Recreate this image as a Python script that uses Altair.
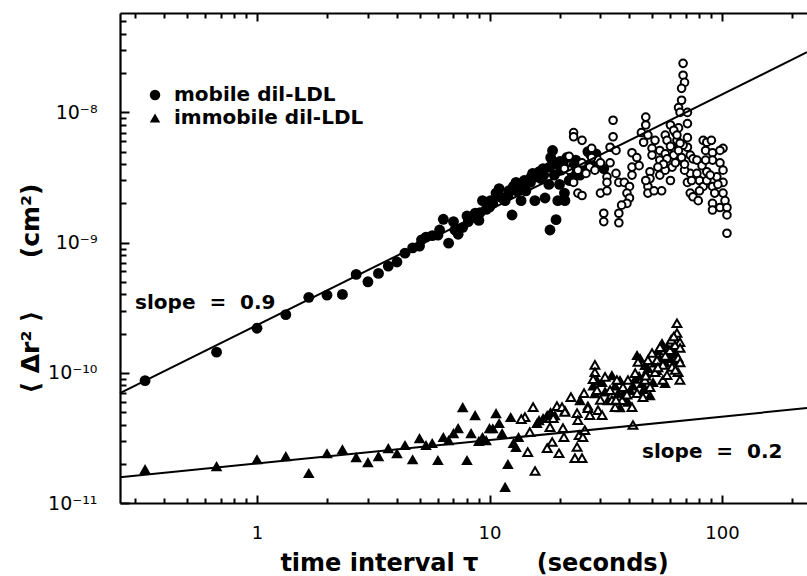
import altair as alt
import pandas as pd

FONT = "DejaVu Sans"
NB = "\u00a0"

SERIES = ["mobile dil-LDL", "immobile dil-LDL"]

# (time interval tau [s], <dr^2> in units of 1e-10 cm^2)
mobile_filled = [
    (0.33, 0.87), (0.67, 1.44), (1.0, 2.2), (1.33, 2.8), (1.67, 3.8), (2.0, 3.95),
    (2.33, 4.0), (2.67, 5.7), (3.0, 5.0), (3.33, 5.8), (3.67, 6.6), (4.0, 7.1),
    (4.33, 8.3), (4.67, 9.1), (5.0, 9.4), (5.33, 11.0), (5.67, 11.3), (6.0, 11.4),
    (6.33, 15.1), (6.67, 9.9), (7.0, 14.5), (7.33, 11.6), (7.67, 13.1), (8.0, 16.0),
    (8.33, 15.5), (8.67, 16.8), (9.0, 14.8), (9.33, 21), (9.67, 18), (10.0, 18.7),
    (10.33, 20), (10.67, 24), (11.0, 26), (11.33, 22), (11.67, 21), (12.0, 23),
    (12.5, 16.3), (12.67, 27), (13.0, 29), (13.33, 28), (13.67, 21), (14.0, 27),
    (14.33, 25), (14.67, 30), (15.0, 29), (15.33, 34), (15.67, 21), (16.0, 32),
    (16.33, 35), (16.67, 31), (17.0, 37), (17.33, 22), (18.2, 12.5), (18.0, 28),
    (18.33, 45), (18.67, 51), (19.0, 33), (19.33, 15), (19.67, 21), (20.0, 28),
    (20.33, 36), (20.67, 40), (21.0, 24), (21.1, 21), (22.0, 30), (22.7, 34),
    (23.0, 39), (24.5, 33), (25.3, 37), (26.0, 39), (27.3, 47), (28.0, 44),
    (29.0, 41), (31.0, 37),
    (5.1, 10.5), (6.1, 12.5), (7.1, 12.5), (8.1, 14.5), (9.1, 17), (10.1, 21),
    (11.1, 22.5), (12.1, 25), (13.1, 25), (14.1, 30), (15.1, 32), (16.1, 34),
    (17.1, 33), (18.1, 38), (19.1, 40), (20.1, 42), (21.5, 45), (23.5, 43),
    (26.5, 50), (28.7, 48),
]
mobile_open = [
    (68, 238), (68, 193), (69, 170), (67, 153), (67, 124), (65, 109), (66, 100), (71, 100), (71, 82),
    (47, 92), (47, 80), (45, 70), (48, 67), (46, 59),
    (34, 87), (34, 65), (33, 54), (35, 51),
    (23, 70), (23, 65), (25, 61), (27.5, 53), (22, 46), (25, 41), (27, 38), (29, 44), (30, 41), (33, 41),
    (22, 36), (24, 36), (26, 34), (23, 29), (24, 24), (25, 23),
    (32, 32), (35, 34), (36, 29), (32, 29), (30, 24), (32, 25),
    (38, 29), (40, 27), (39, 24), (40, 22), (39, 20), (37, 19.4),
    (31, 16.8), (31, 14.5), (36, 16.8), (36, 14.2),
    (41, 49), (43, 45), (41, 38), (41, 33),
    (50, 53), (50, 47), (49, 35), (49, 31), (48, 27), (48, 24),
    (54, 51), (54, 33), (57, 67), (58, 61), (57, 48), (61, 54), (61, 38), (63, 70), (65, 76), (64, 61),
    (71, 64), (71, 54), (73, 47), (75, 44), (73, 34), (71, 29), (73, 24), (75, 22.5), (79, 21), (78, 34), (80, 30),
    (83, 61), (86, 59), (90, 61), (85, 51), (91, 49), (101, 53), (78, 43), (82, 39), (86, 35), (91, 43),
    (98, 41), (101, 36), (95, 32), (101, 29), (91, 27), (93, 24), (101, 24), (103, 21), (91, 20), (91, 17.8),
    (98, 18.6), (105, 18.6), (105, 16.3), (105, 11.8), (83, 27), (86, 30),
    (27.5, 45), (28.4, 36), (21, 37), (51.5, 61), (54, 43), (57, 36), (60, 30), (55, 25), (63, 51), (66, 43),
    (68, 56), (51, 25), (44, 39), (47, 30), (69, 36), (74, 30), (80, 25), (89, 33), (96, 28), (98, 51), (85, 43),
    (60, 80), (62, 73), (64, 67), (66, 58), (62, 47), (65, 51), (67, 45), (69, 40), (63, 41), (58, 44),
    (60, 55), (56, 40), (53, 38),
]
immobile_filled = [
    (0.33, 0.182), (0.67, 0.192), (1.0, 0.217), (1.33, 0.229), (1.67, 0.17), (2.0, 0.241),
    (2.33, 0.259), (2.67, 0.225), (3.0, 0.206), (3.33, 0.229), (3.67, 0.264), (4.0, 0.241),
    (4.33, 0.279), (4.67, 0.217), (5.0, 0.315), (5.33, 0.279), (5.67, 0.289), (6.0, 0.214),
    (6.33, 0.321), (6.67, 0.304), (7.0, 0.344), (7.33, 0.376), (7.67, 0.545), (8.0, 0.214),
    (8.33, 0.344), (8.67, 0.473), (9.0, 0.30), (9.33, 0.321), (9.67, 0.304), (10.0, 0.376),
    (10.33, 0.375), (10.67, 0.49), (11.0, 0.411), (11.33, 0.344), (11.67, 0.133), (12.0, 0.199),
    (12.33, 0.457), (12.67, 0.289), (13.0, 0.269), (13.33, 0.321),
    (16.0, 0.411), (16.33, 0.433), (17.0, 0.449), (17.7, 0.473), (18.3, 0.5), (19.1, 0.473),
    (21.1, 0.517), (24.5, 0.617), (26.5, 0.56),
    (29, 0.88), (33.6, 0.96), (36.4, 0.88), (35.7, 0.698), (38.3, 0.617), (40.2, 0.737),
    (43.1, 1.37), (44.4, 1.30), (46.6, 1.15), (48.1, 1.09), (45.3, 0.834), (50.5, 0.85),
    (53.1, 1.49), (55.2, 1.69), (58, 1.57), (59.7, 1.42), (56.9, 0.834), (49, 0.674),
    (32.3, 0.617), (36.4, 0.545), (30.5, 0.85), (28.4, 0.698),
    (27.9, 0.8), (31.4, 0.72), (34.7, 0.80), (37.5, 0.70), (39.4, 0.60), (41.4, 0.80),
    (42.3, 0.90), (47, 1.0), (51.5, 1.2), (52.5, 1.05), (54.1, 1.3), (57, 1.2),
    (60, 1.3), (62.8, 1.45), (61, 1.55), (63, 1.25), (46, 0.75), (44, 0.95),
]
immobile_open = [
    (15.4, 0.545), (14.2, 0.457), (13.7, 0.441), (14.9, 0.35), (14.6, 0.246), (15.7, 0.176),
    (17.7, 0.264), (18.6, 0.294), (19.9, 0.241), (20.9, 0.321), (20.7, 0.376), (18.2, 0.383),
    (19.5, 0.555), (20.5, 0.545), (18.8, 0.449), (21.1, 0.5), (22.4, 0.65), (23.8, 0.49),
    (24.0, 0.433), (23.8, 0.269), (23.3, 0.221), (25.0, 0.221), (24.3, 0.332), (25.2, 0.321),
    (25.7, 0.363), (25.5, 0.698), (26.5, 0.536), (27.0, 0.473), (28.4, 1.15), (28.4, 1.01),
    (27.9, 0.895), (29.0, 0.737), (29.3, 0.517), (30.5, 0.473), (31.4, 0.93), (33.0, 0.737),
    (33.6, 0.617), (35.3, 0.88), (34.7, 0.545), (37.2, 0.617), (37.5, 0.777), (39.4, 0.88),
    (41.0, 0.545), (41.4, 0.397), (42.3, 0.995), (43.1, 0.698), (43.5, 1.21), (45.7, 0.65),
    (46.6, 0.88), (49.0, 0.777), (50.0, 1.42), (51.5, 1.01), (52.5, 1.25), (54.1, 1.57),
    (55.7, 1.15), (55.7, 0.88), (58.0, 0.96), (59.7, 1.49), (61.0, 1.11), (64.0, 2.40),
    (64.0, 2.02), (65.9, 1.72), (64.7, 1.30), (64.7, 1.01), (65.9, 0.88), (62.8, 1.63),
    (60.5, 1.8), (62, 1.9), (66, 1.55), (66, 1.2), (63, 1.05), (57, 1.35),
    (53, 1.1), (48, 1.25), (47, 0.95), (39, 0.68), (35, 0.62), (30, 0.62),
]

# fitted power laws, end points at the edges of the time axis (cm^2)
line_t = [0.2575, 232.0]
mobile_line = [6.97e-11, 2.9e-8]
immobile_line = [1.58e-11, 5.36e-11]

ann_text = ["slope" + NB * 2 + "=" + NB * 2 + "0.9", "slope" + NB * 2 + "=" + NB * 2 + "0.2"]
ann_t = [0.299, 45.3]
ann_msd = [3.08e-10, 2.21e-11]

X_MAJOR = [1, 10, 100]
X_MINOR = [0.3, 0.4, 0.5, 0.6, 0.7, 0.8, 0.9, 2, 3, 4, 5, 6, 7, 8, 9,
           20, 30, 40, 50, 60, 70, 80, 90, 200]
Y_MAJOR = [1e-11, 1e-10, 1e-9, 1e-8]
Y_MINOR = [2e-11, 3e-11, 4e-11, 5e-11, 6e-11, 7e-11, 8e-11, 9e-11,
           2e-10, 3e-10, 4e-10, 5e-10, 6e-10, 7e-10, 8e-10, 9e-10,
           2e-9, 3e-9, 4e-9, 5e-9, 6e-9, 7e-9, 8e-9, 9e-9,
           2e-8, 3e-8, 4e-8, 5e-8]

X_TITLE = "time interval τ" + NB * 7 + "(seconds)"
Y_TITLE = "⟨" + NB + "Δr²" + NB + "⟩" + NB * 6 + "(cm²)"

W, H = 687, 490


def frame(pairs, series):
    return pd.DataFrame({
        "t": [p[0] for p in pairs],
        "msd": [p[1] * 1e-10 for p in pairs],
        "series": series,
    })


df_filled = pd.concat([frame(mobile_filled, SERIES[0]), frame(immobile_filled, SERIES[1])])
df_open = pd.concat([frame(mobile_open, SERIES[0]), frame(immobile_open, SERIES[1])])
df_mline = pd.DataFrame({"t": line_t, "msd": mobile_line})
df_iline = pd.DataFrame({"t": line_t, "msd": immobile_line})
df_ann = pd.DataFrame({"t": ann_t, "msd": ann_msd, "label": ann_text})

xscale = alt.Scale(type="log", domain=[0.2575, 232.0], nice=False)
yscale = alt.Scale(type="log", domain=[1e-11, 5.8e-8], nice=False)
shape_scale = alt.Scale(domain=SERIES, range=["circle", "triangle-up"])


def tick_axis(orient, values, size, offset, domain):
    return alt.Axis(orient=orient, values=values, tickSize=size, tickWidth=2,
                    tickColor="black", labels=False, title=None, domain=domain,
                    domainWidth=2.2, domainColor="black", offset=offset, grid=False)


ax_x_labels = alt.Axis(
    orient="bottom", values=X_MAJOR, format="d", domain=False, ticks=False, tickSize=0,
    labelPadding=21, labelFont=FONT, labelFontSize=18, labelColor="black",
    labelFlush=False, labelOverlap=False, grid=False,
    title=X_TITLE, titleFont=FONT, titleFontSize=24, titleFontWeight="bold",
    titleColor="black", titleX=354, titleY=67, titleAlign="center",
    titleBaseline="alphabetic",
)
ax_y_labels = alt.Axis(
    orient="left", values=Y_MAJOR, domain=False, ticks=False, tickSize=0,
    labelExpr="datum.value < 3e-11 ? '10⁻¹¹' : datum.value < 3e-10 ? '10⁻¹⁰' : datum.value < 3e-9 ? '10⁻⁹' : '10⁻⁸'",
    labelPadding=23, labelFont=FONT, labelFontSize=19, labelColor="black",
    labelFlush=False, labelOverlap=False, grid=False,
    title=Y_TITLE, titleFont=FONT, titleFontSize=25, titleFontWeight="bold",
    titleColor="black", titleX=-90, titleY=275, titleAngle=270, titleAlign="center",
    titleBaseline="middle",
)

legend = alt.Legend(
    title=None, orient="none", legendX=25, legendY=72, padding=0,
    labelFont=FONT, labelFontSize=20, labelFontWeight="bold", labelColor="black",
    labelOffset=9, rowPadding=3, symbolSize=110, symbolFillColor="black",
    symbolStrokeColor="black", labelLimit=400,
)

filled = alt.Chart(df_filled).mark_point(
    filled=True, color="black", opacity=1
).encode(
    x=alt.X("t:Q", scale=xscale, axis=ax_x_labels),
    y=alt.Y("msd:Q", scale=yscale, axis=ax_y_labels),
    shape=alt.Shape("series:N", scale=shape_scale, legend=legend),
    size=alt.Size("series:N", scale=alt.Scale(domain=SERIES, range=[118, 135]), legend=None),
)

open_pts = alt.Chart(df_open).mark_point(
    filled=True, fill="white", stroke="black", strokeWidth=2, opacity=1
).encode(
    x=alt.X("t:Q", scale=xscale, axis=tick_axis("top", X_MAJOR, 8, -H, True)),
    y=alt.Y("msd:Q", scale=yscale, axis=tick_axis("right", Y_MAJOR, 9, -W, True)),
    shape=alt.Shape("series:N", scale=shape_scale, legend=None),
    size=alt.Size("series:N", scale=alt.Scale(domain=SERIES, range=[58, 78]), legend=None),
)

mline = alt.Chart(df_mline).mark_line(color="black", strokeWidth=2).encode(
    x=alt.X("t:Q", scale=xscale, axis=tick_axis("top", X_MINOR, 5, -H, False)),
    y=alt.Y("msd:Q", scale=yscale, axis=tick_axis("right", Y_MINOR, 6, -W, False)),
)

iline = alt.Chart(df_iline).mark_line(color="black", strokeWidth=2).encode(
    x=alt.X("t:Q", scale=xscale, axis=tick_axis("bottom", X_MAJOR, 8, -H, True)),
    y=alt.Y("msd:Q", scale=yscale, axis=None),
)

ann = alt.Chart(df_ann).mark_text(
    align="left", baseline="alphabetic", font=FONT, fontSize=20,
    fontWeight="bold", color="black"
).encode(
    x=alt.X("t:Q", scale=xscale, axis=tick_axis("bottom", X_MINOR, 5, -H, False)),
    y=alt.Y("msd:Q", scale=yscale, axis=None),
    text="label:N",
)

chart = alt.layer(filled, open_pts, mline, iline, ann).resolve_axis(
    x="independent", y="independent"
).resolve_scale(size="independent").properties(
    width=W, height=H,
    padding={"left": 120, "top": 13, "right": 0, "bottom": 73},
    autosize=alt.AutoSizeParams(type="none"),
    background="white",
).configure(font=FONT).configure_view(stroke=None).configure_axis(grid=False)

chart.save("out.html", embed_options={"renderer": "svg", "actions": False})
